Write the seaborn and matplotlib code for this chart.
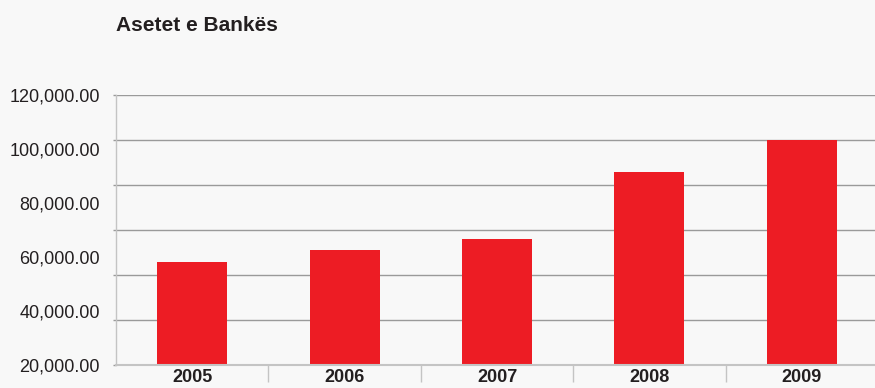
import matplotlib
matplotlib.use("Agg")
import matplotlib.pyplot as plt
import seaborn as sns
import pandas as pd
from matplotlib.ticker import FixedLocator, FuncFormatter

# ---- data ----
years = ["2005", "2006", "2007", "2008", "2009"]
assets = [45800, 51100, 56000, 85800, 100000]
grid_ticks = [0, 20000, 40000, 60000, 80000, 100000, 120000]
label_ticks = [20000, 40000, 60000, 80000, 100000, 120000]
title = "Asetet e Bankës"

sns.set_theme(style="white")
plt.rcParams["font.family"] = ["Liberation Sans", "DejaVu Sans"]

bg = "#f8f8f8"
txt = "#231f20"
fig = plt.figure(figsize=(8.75, 3.88), dpi=100, facecolor=bg)
ax = fig.add_axes([116 / 875, 23 / 388, 762 / 875, 270 / 388])
ax.set_facecolor(bg)

df = pd.DataFrame({"year": years, "assets": assets})
sns.barplot(data=df, x="year", y="assets", color="#ed1c24", saturation=1,
            width=0.46, linewidth=0, ax=ax, zorder=3)

ax.set_ylim(0, 120000)
ax.set_xlim(-0.5, 4.5)
ax.yaxis.set_major_locator(FixedLocator(grid_ticks))
ax.grid(axis="y", color="#9a9a9a", linewidth=1.0, zorder=0)
ax.set_axisbelow(True)
ax.tick_params(axis="y", left=True, length=2.5, width=1, color="#9a9a9a",
               labelleft=False)
ax.set_xlabel("")
ax.set_ylabel("")

for s in ["top", "right"]:
    ax.spines[s].set_visible(False)
ax.spines["left"].set_color("#c4c4c4")
ax.spines["left"].set_linewidth(1.0)
ax.spines["bottom"].set_color("#c4c4c4")
ax.spines["bottom"].set_linewidth(1.5)
ax.spines["bottom"].set_zorder(4)

ax.xaxis.set_minor_locator(FixedLocator([0.5, 1.5, 2.5, 3.5]))
ax.tick_params(axis="x", which="minor", bottom=True, length=12, width=1,
               color="#c4c4c4", direction="out")
ax.tick_params(axis="x", which="major", bottom=False, length=0, pad=3,
               labelsize=13, labelcolor=txt)
for lbl in ax.get_xticklabels():
    lbl.set_fontweight("bold")

# value labels on a second scale, as in the reference
ax2 = ax.twinx()
ax2.set_ylim(20000, 120000)
ax2.yaxis.set_major_locator(FixedLocator(label_ticks))
ax2.yaxis.set_major_formatter(FuncFormatter(lambda v, p: f"{v:,.2f}"))
ax2.yaxis.set_ticks_position("left")
ax2.yaxis.set_label_position("left")
ax2.tick_params(axis="y", length=0, pad=11.5, labelsize=13, labelcolor=txt)
for s in ax2.spines.values():
    s.set_visible(False)
ax2.grid(False)

fig.text(116 / 875, 1 - 31 / 388, title, fontsize=15, fontweight="bold",
         color=txt, ha="left", va="baseline")

fig.savefig("out.png", dpi=100, facecolor=bg)
